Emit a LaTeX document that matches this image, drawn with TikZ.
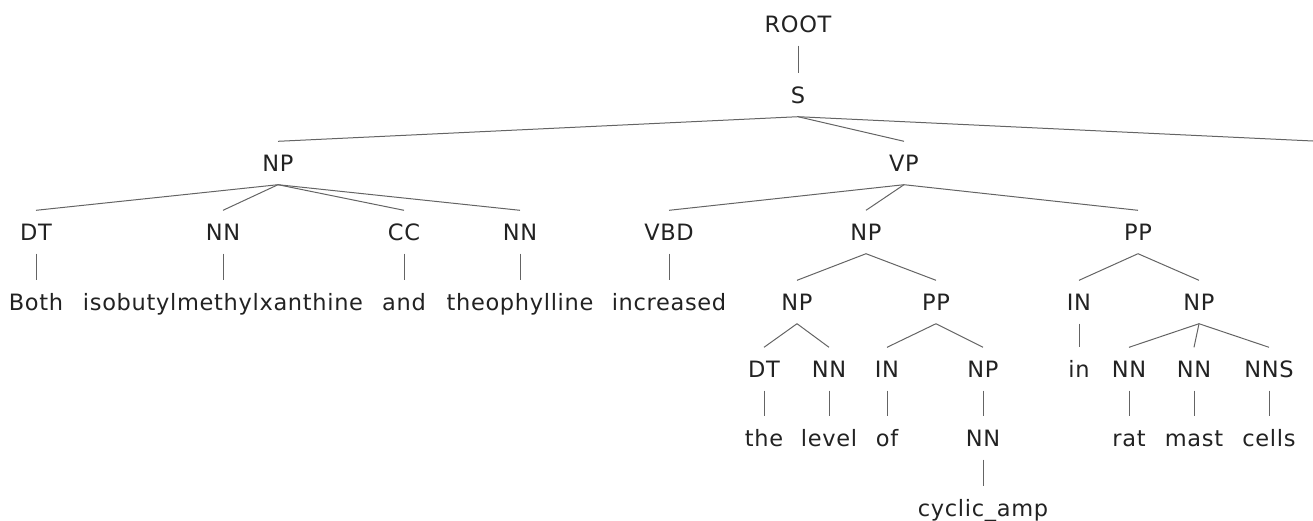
\documentclass[tikz,border=0pt]{standalone}
\usepackage{fontspec}
\setmainfont{DejaVu Sans}[LetterSpace=3.0]
\definecolor{labelink}{RGB}{34,34,34}
\definecolor{edgeink}{RGB}{100,100,100}
\begin{document}
\begin{tikzpicture}[x=1pt,y=-1pt,
  tn/.style={font=\fontsize{22.5}{27}\selectfont, text=labelink, inner sep=0pt,
             text height=16pt, text depth=0pt, minimum height=43pt, anchor=center},
  edge/.style={draw=edgeink, line width=1pt}]
\useasboundingbox (0,0) rectangle (1313,520);

% phrase and tag labels
\node[tn] (root) at (798,24) {ROOT};
\node[tn] (s)    at (798,95) {S};
\node[tn] (np1)  at (278,163) {NP};
\node[tn] (vp)   at (904,163) {VP};
\coordinate (sr) at (1313,141);

\node[tn] (dt1)  at (36,232)   {DT};
\node[tn] (nn1)  at (223,232)  {NN};
\node[tn] (cc1)  at (404,232)  {CC};
\node[tn] (nn2)  at (520,232)  {NN};
\node[tn] (vbd)  at (669,232)  {VBD};
\node[tn] (np2)  at (866,232)  {NP};
\node[tn] (pp1)  at (1138,232) {PP};

\node[tn] (wboth) at (36,302)  {Both};
\node[tn] (wiso)  at (223,302) {isobutylmethylxanthine};
\node[tn] (wand)  at (404,302) {and};
\node[tn] (wtheo) at (520,302) {theophylline};
\node[tn] (winc)  at (669,302) {increased};
\node[tn] (np3)   at (797,302) {NP};
\node[tn] (pp2)   at (936,302) {PP};
\node[tn] (in1)   at (1079,302) {IN};
\node[tn] (np4)   at (1199,302) {NP};

\node[tn] (dt2)  at (764,369)  {DT};
\node[tn] (nn3)  at (829,369)  {NN};
\node[tn] (in2)  at (887,369)  {IN};
\node[tn] (np5)  at (983,369)  {NP};
\node[tn] (win)  at (1079,369) {in};
\node[tn] (nn4)  at (1129,369) {NN};
\node[tn] (nn5)  at (1194,369) {NN};
\node[tn] (nns)  at (1269,369) {NNS};

\node[tn] (wthe)   at (764,438)  {the};
\node[tn] (wlevel) at (829,438)  {level};
\node[tn] (wof)    at (887,438)  {of};
\node[tn] (nn6)    at (983,438)  {NN};
\node[tn] (wrat)   at (1129,438) {rat};
\node[tn] (wmast)  at (1194,438) {mast};
\node[tn] (wcells) at (1269,438) {cells};

\node[tn] (wcyc) at (983,508) {cyclic\_amp};

% tree edges
\path[edge] (root.south) -- (s.north);
\path[edge] (s.south) -- (np1.north);
\path[edge] (s.south) -- (vp.north);
\path[edge] (s.south) -- (sr);

\path[edge] (np1.south) -- (dt1.north);
\path[edge] (np1.south) -- (nn1.north);
\path[edge] (np1.south) -- (cc1.north);
\path[edge] (np1.south) -- (nn2.north);
\path[edge] (dt1.south) -- (wboth.north);
\path[edge] (nn1.south) -- (wiso.north);
\path[edge] (cc1.south) -- (wand.north);
\path[edge] (nn2.south) -- (wtheo.north);

\path[edge] (vp.south) -- (vbd.north);
\path[edge] (vp.south) -- (np2.north);
\path[edge] (vp.south) -- (pp1.north);
\path[edge] (vbd.south) -- (winc.north);

\path[edge] (np2.south) -- (np3.north);
\path[edge] (np2.south) -- (pp2.north);
\path[edge] (np3.south) -- (dt2.north);
\path[edge] (np3.south) -- (nn3.north);
\path[edge] (dt2.south) -- (wthe.north);
\path[edge] (nn3.south) -- (wlevel.north);
\path[edge] (pp2.south) -- (in2.north);
\path[edge] (pp2.south) -- (np5.north);
\path[edge] (in2.south) -- (wof.north);
\path[edge] (np5.south) -- (nn6.north);
\path[edge] (nn6.south) -- (wcyc.north);

\path[edge] (pp1.south) -- (in1.north);
\path[edge] (pp1.south) -- (np4.north);
\path[edge] (in1.south) -- (win.north);
\path[edge] (np4.south) -- (nn4.north);
\path[edge] (np4.south) -- (nn5.north);
\path[edge] (np4.south) -- (nns.north);
\path[edge] (nn4.south) -- (wrat.north);
\path[edge] (nn5.south) -- (wmast.north);
\path[edge] (nns.south) -- (wcells.north);
\end{tikzpicture}
\end{document}
